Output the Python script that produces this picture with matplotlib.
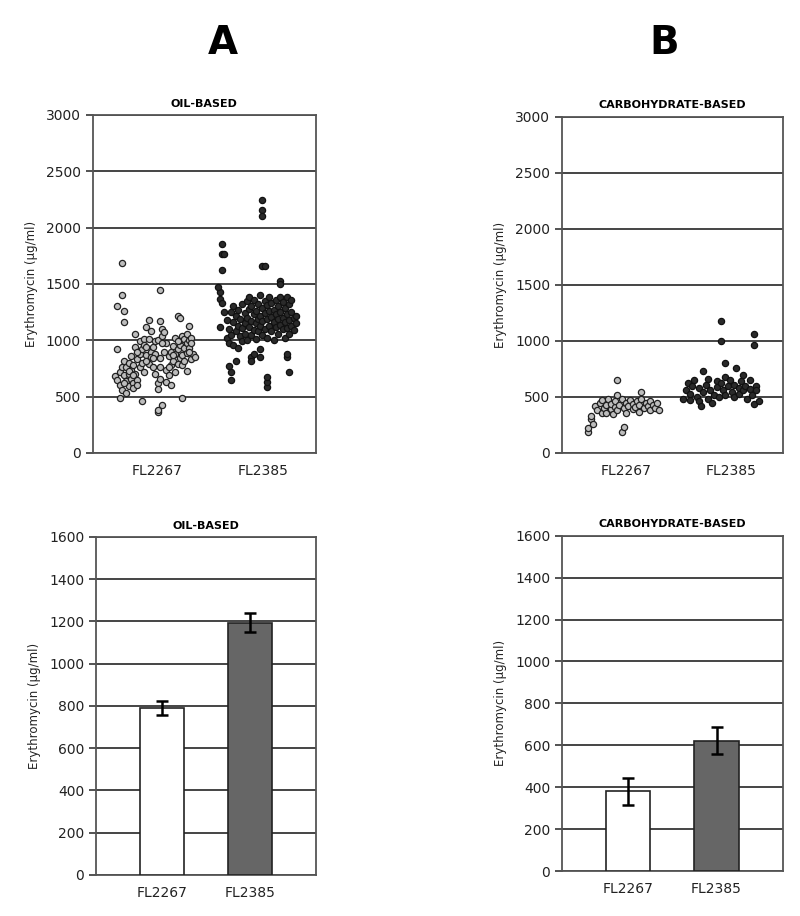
import matplotlib
matplotlib.use('Agg')
import matplotlib.pyplot as plt

# categorias
cepas = ['FL2267', 'FL2385']
titulos = ['OIL-BASED', 'CARBOHYDRATE-BASED']

# dispersao - oleo, FL2267 (posicao x no eixo 0..1, valor em ug/ml)
oleo_2267_x = [0.13, 0.11, 0.13, 0.14, 0.14, 0.11, 0.30, 0.30, 0.25, 0.38, 0.39, 0.43, 0.40, 0.12, 0.22,
               0.29, 0.31, 0.29, 0.42, 0.44,
               0.10, 0.11, 0.12, 0.12, 0.13, 0.13, 0.14, 0.14, 0.15, 0.15, 0.15, 0.16, 0.16, 0.16, 0.17,
               0.17, 0.17, 0.18, 0.18, 0.18, 0.19, 0.19, 0.19, 0.20, 0.20, 0.20, 0.21, 0.21, 0.21, 0.22,
               0.22, 0.23, 0.23, 0.23, 0.24, 0.24, 0.24, 0.25, 0.25, 0.26, 0.26, 0.26, 0.27, 0.27, 0.28,
               0.28, 0.28, 0.29, 0.29, 0.29, 0.30, 0.30, 0.30, 0.31, 0.31, 0.32, 0.32, 0.33, 0.33, 0.33,
               0.34, 0.34, 0.35, 0.35, 0.35, 0.36, 0.36, 0.37, 0.37, 0.37, 0.38, 0.38, 0.39, 0.39, 0.39,
               0.40, 0.40, 0.40, 0.41, 0.41, 0.42, 0.42, 0.42, 0.43, 0.43, 0.44, 0.44, 0.45, 0.46,
               0.14, 0.16, 0.18, 0.20, 0.24, 0.27, 0.31, 0.34, 0.36, 0.38, 0.41, 0.43]
oleo_2267_y = [1686, 1305, 1400, 1260, 1160, 920, 1445, 1175, 1180, 1220, 1200, 1130, 490, 490, 460,
               365, 430, 380, 730, 830,
               680, 650, 720, 600, 760, 560, 820, 690, 640, 760, 530, 700, 800, 590, 660,
               740, 860, 620, 580, 780, 700, 940, 1060, 830, 650, 600, 760, 990, 880, 920,
               800, 1010, 960, 720, 870, 1120, 940, 790, 1010, 900, 1080, 850, 940, 760, 990,
               880, 700, 1000, 620, 570, 660, 760, 840, 1040, 1100, 1070, 900, 980, 740, 630,
               690, 860, 900, 780, 600, 950, 820, 1020, 720, 880, 790, 920, 960, 840, 1000,
               870, 780, 1040, 930, 1010, 890, 1060, 980, 1000, 930, 1020, 980, 880, 850,
               620, 730, 690, 900, 820, 840, 980, 760, 870, 990, 820, 900]

# dispersao - oleo, FL2385
oleo_2385_x = [0.58, 0.58, 0.59, 0.58, 0.76, 0.76, 0.76, 0.76, 0.77, 0.84, 0.84, 0.62, 0.62, 0.61, 0.64,
               0.78, 0.78, 0.78, 0.88, 0.87, 0.87, 0.75, 0.75, 0.71, 0.72, 0.71, 0.57, 0.57, 0.57, 0.56,
               0.58, 0.59,
               0.60, 0.60, 0.61, 0.61, 0.62, 0.62, 0.63, 0.63, 0.63, 0.64, 0.64, 0.65, 0.65, 0.65, 0.66,
               0.66, 0.67, 0.67, 0.67, 0.68, 0.68, 0.68, 0.69, 0.69, 0.69, 0.70, 0.70, 0.70, 0.71, 0.71,
               0.71, 0.72, 0.72, 0.72, 0.73, 0.73, 0.73, 0.74, 0.74, 0.74, 0.75, 0.75, 0.75, 0.76, 0.76,
               0.76, 0.77, 0.77, 0.77, 0.78, 0.78, 0.78, 0.79, 0.79, 0.79, 0.80, 0.80, 0.80, 0.81, 0.81,
               0.81, 0.82, 0.82, 0.82, 0.83, 0.83, 0.83, 0.84, 0.84, 0.84, 0.85, 0.85, 0.85, 0.86, 0.86,
               0.86, 0.87, 0.87, 0.87, 0.88, 0.88, 0.88, 0.89, 0.89, 0.89, 0.90, 0.90, 0.91, 0.91]
oleo_2385_y = [1855, 1766, 1766, 1624, 2245, 2157, 2104, 1660, 1660, 1527, 1500, 650, 720, 770, 815,
               585, 630, 670, 720, 850, 880, 850, 920, 850, 880, 820, 1120, 1370, 1430, 1470,
               1330, 1250,
               1180, 1020, 1100, 980, 1250, 1050, 1160, 960, 1300, 1080, 1220, 1130, 930, 1270, 1190,
               1040, 1110, 1320, 990, 1240, 1150, 1060, 1350, 1200, 1000, 1280, 1120, 1380, 1170, 1050,
               1300, 1230, 1090, 1360, 1150, 1010, 1260, 1320, 1190, 1080, 1220, 1400, 1130, 1050, 1290,
               1170, 1350, 1100, 1240, 1190, 1020, 1310, 1130, 1260, 1380, 1080, 1210, 1330, 1160, 1000,
               1270, 1120, 1230, 1360, 1060, 1190, 1300, 1140, 1250, 1380, 1100, 1200, 1340, 1020, 1160,
               1290, 1380, 1230, 1110, 1060, 1180, 1320, 1250, 1130, 1360, 1200, 1090, 1150, 1220]

# dispersao - carboidrato, FL2267
carbo_2267_x = [0.12, 0.12, 0.13, 0.13, 0.14, 0.25, 0.25, 0.36, 0.27, 0.28,
                0.15, 0.16, 0.17, 0.18, 0.18, 0.19, 0.20, 0.20, 0.21, 0.22, 0.22, 0.23, 0.24, 0.24,
                0.25, 0.26, 0.27, 0.28, 0.29, 0.29, 0.30, 0.31, 0.32, 0.32, 0.33, 0.34, 0.35, 0.35,
                0.36, 0.37, 0.38, 0.39, 0.40, 0.40, 0.41, 0.42, 0.43, 0.44]
carbo_2267_y = [190, 220, 300, 330, 260, 650, 520, 545, 190, 230,
                420, 380, 450, 360, 470, 400, 430, 360, 480, 390, 440, 350, 410, 460,
                380, 430, 480, 400, 450, 360, 420, 470, 390, 440, 410, 460, 370, 430,
                480, 400, 450, 420, 380, 460, 430, 400, 450, 380]

# dispersao - carboidrato, FL2385
carbo_2385_x = [0.72, 0.72, 0.87, 0.87, 0.64, 0.74,
                0.55, 0.56, 0.57, 0.58, 0.58, 0.59, 0.60, 0.61, 0.62, 0.62, 0.63, 0.64, 0.65, 0.66,
                0.66, 0.67, 0.68, 0.69, 0.70, 0.70, 0.71, 0.72, 0.73, 0.74, 0.74, 0.75, 0.76, 0.77,
                0.78, 0.78, 0.79, 0.80, 0.80, 0.81, 0.82, 0.82, 0.83, 0.84, 0.85, 0.85, 0.86, 0.87,
                0.88, 0.88, 0.89]
carbo_2385_y = [1175, 1000, 1065, 960, 735, 800,
                480, 560, 620, 470, 530, 600, 650, 500, 580, 460, 420, 540, 610, 480,
                660, 560, 450, 520, 640, 590, 500, 620, 560, 680, 520, 600, 650, 540,
                500, 610, 760, 580, 530, 640, 700, 560, 600, 480, 570, 650, 520, 440,
                600, 560, 460]

# medias e erros (barras)
oleo_media = [790, 1195]
oleo_erro = [35, 45]
carbo_media = [380, 622]
carbo_erro = [65, 65]

plt.rcParams['font.family'] = ['DejaVu Sans']
cor_texto = '#222222'
cor_grade = '#444444'


def estiloEixo(ax, ymax, passo):
    ax.set_ylim(0, ymax)
    ax.set_yticks(range(0, ymax + 1, passo))
    ax.yaxis.grid(True, color=cor_grade, linewidth=1.4)
    ax.set_axisbelow(True)
    for lado in ax.spines.values():
        lado.set_color('#555555')
        lado.set_linewidth(1.3)
    ax.tick_params(axis='y', colors=cor_texto, labelsize=10, length=5, width=1.3, color=cor_grade)
    ax.tick_params(axis='x', colors=cor_texto, labelsize=10, length=0, pad=8)
    ax.set_ylabel('Erythromycin (µg/ml)', fontsize=8.5, color=cor_texto, labelpad=6)


def graficoDispersao(ax, titulo, x1, y1, x2, y2):
    ax.scatter(x1, y1, s=20, facecolor='#bdbdbd', edgecolor='#222222', linewidth=0.9, zorder=3)
    ax.scatter(x2, y2, s=20, facecolor='#2a2a2a', edgecolor='#111111', linewidth=0.9, zorder=3)
    ax.set_xlim(0, 1)
    ax.set_xticks([0.29, 0.765])
    ax.set_xticklabels(cepas)
    estiloEixo(ax, 3000, 500)
    ax.set_title(titulo, fontsize=8, fontweight='bold', pad=6)


def graficoBarras(ax, titulo, media, erro):
    pos = [0, 1]
    ax.bar(pos, media, width=0.5, color=['white', '#666666'], edgecolor='#222222',
           linewidth=1.2, zorder=3)
    ax.errorbar(pos, media, yerr=erro, fmt='none', ecolor='black', elinewidth=1.8,
                capsize=4, capthick=1.8, zorder=4)
    ax.set_xlim(-0.75, 1.75)
    ax.set_xticks(pos)
    ax.set_xticklabels(cepas)
    estiloEixo(ax, 1600, 200)
    ax.set_title(titulo, fontsize=8, fontweight='bold', pad=6)


fig = plt.figure(figsize=(8, 9.16), dpi=100)
ax1 = fig.add_axes([0.116, 0.5055, 0.279, 0.369])
ax2 = fig.add_axes([0.7025, 0.5055, 0.276, 0.367])
ax3 = fig.add_axes([0.120, 0.0448, 0.275, 0.369])
ax4 = fig.add_axes([0.7025, 0.0491, 0.276, 0.366])

graficoDispersao(ax1, titulos[0], oleo_2267_x, oleo_2267_y, oleo_2385_x, oleo_2385_y)
graficoDispersao(ax2, titulos[1], carbo_2267_x, carbo_2267_y, carbo_2385_x, carbo_2385_y)
graficoBarras(ax3, titulos[0], oleo_media, oleo_erro)
graficoBarras(ax4, titulos[1], carbo_media, carbo_erro)

fig.text(0.278, 0.953, 'A', fontsize=28, fontweight='bold', ha='center', va='center')
fig.text(0.830, 0.953, 'B', fontsize=28, fontweight='bold', ha='center', va='center')

fig.savefig('out.png', dpi=100)
plt.close(fig)
